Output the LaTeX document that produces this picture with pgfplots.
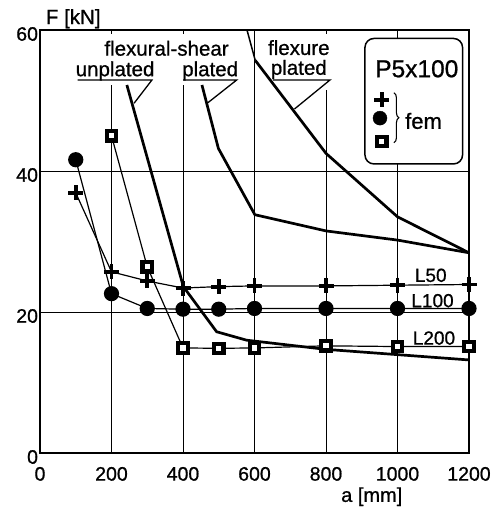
\documentclass[border=0pt]{standalone}
\usepackage{fontspec}
\setmainfont{Liberation Sans}[FakeBold=0.8]
\usepackage{pgfplots}
\pgfplotsset{compat=1.18}
\usetikzlibrary{decorations.pathreplacing}
\begin{document}
\begin{tikzpicture}
\useasboundingbox (-40bp,-63bp) rectangle (451bp,453bp);
\begin{axis}[
  at={(0,0)}, anchor=south west,
  scale only axis, width=429bp, height=423bp,
  xmin=0, xmax=1200, ymin=0, ymax=60,
  xtick={0,200,...,1200}, ytick={0,20,40,60},
  tick align=inside, major tick length=4bp,
  axis line style={line width=2.4bp},
  every tick/.style={black, line width=0.8bp},
  clip=false,
  /pgf/number format/assume math mode=true,
  /pgf/number format/1000 sep={},
  tick label style={font=\fontsize{19.5bp}{22bp}\selectfont},
  xticklabel style={yshift=-10.5bp},
  yticklabel style={xshift=1.5bp, yshift=-4bp},
]
% grid lines
\draw[line width=0.8bp] (axis cs:0,20) -- (axis cs:1200,20);
\draw[line width=0.8bp] (axis cs:0,40) -- (axis cs:1200,40);
\draw[line width=0.8bp] (axis cs:200,0) -- (axis cs:200,52.2);
\draw[line width=0.8bp] (axis cs:400,0) -- (axis cs:400,52.2);
\draw[line width=0.8bp] (axis cs:600,0) -- (axis cs:600,60);
\draw[line width=0.8bp] (axis cs:800,0) -- (axis cs:800,51.5);
\draw[line width=0.8bp] (axis cs:1000,0) -- (axis cs:1000,60);

% thick analytical curves
\addplot[line width=2.7bp, line join=round] coordinates {(243,52.2)(401,23.6)(494,17.2)(578,16.0)(800,14.7)(1200,13.2)};
\addplot[line width=2.7bp, line join=round] coordinates {(453,52.2)(499,43.2)(601,33.8)(800,31.5)(1000,30.2)(1200,28.4)};
\addplot[line width=1.5bp] coordinates {(579,60)(602,55.7)};
\addplot[line width=2.7bp, line join=round] coordinates {(602,55.7)(800,42.5)(1000,33.5)(1200,28.4)};

% fem series
\addplot[line width=1.2bp, mark=+, mark size=7.5bp, mark options={line width=3.8bp}] coordinates {(100,36.9)(200,25.7)(300,24.4)(400,23.4)(500,23.6)(600,23.7)(800,23.7)(1000,23.8)(1200,23.9)};
\addplot[line width=1.2bp, mark=*, mark size=7bp, mark options={fill=black}] coordinates {(100,41.6)(200,22.6)(300,20.5)(400,20.4)(500,20.4)(600,20.5)(800,20.5)(1000,20.5)(1200,20.5)};
\addplot[line width=1.2bp, mark=square*, mark size=4.7bp, mark options={fill=white, line width=4.2bp}] coordinates {(200,45)(300,26.4)(400,14.9)(500,14.85)(600,14.9)(800,15.2)(1000,15.1)(1200,15.1)};

% labels with underline and leaders
\node[font=\fontsize{20.5bp}{22bp}\selectfont] at (axis cs:354,57.4) {flexural-shear};
\node[font=\fontsize{20.5bp}{22bp}\selectfont] at (axis cs:210,54.2) {unplated};
\draw[line width=1.3bp] (axis cs:105,52.9) -- (axis cs:313,52.9) -- (axis cs:263,49.6);
\node[font=\fontsize{20.5bp}{22bp}\selectfont] at (axis cs:476,54.2) {plated};
\draw[line width=1.3bp] (axis cs:400,52.9) -- (axis cs:550,52.9) -- (axis cs:470,49.7);
\node[font=\fontsize{20.5bp}{22bp}\selectfont] at (axis cs:724,57.5) {flexure};
\node[font=\fontsize{20.5bp}{22bp}\selectfont] at (axis cs:724,54.4) {plated};
\draw[line width=1.3bp] (axis cs:652,52.9) -- (axis cs:811,52.9) -- (axis cs:712,48.8);

% legend box
\draw[line width=1.5bp, rounded corners=9bp, fill=white] (axis cs:909,41.0) rectangle (axis cs:1182,58.8);
\node[font=\fontsize{24.5bp}{26bp}\selectfont] at (axis cs:1054,54.5) {P5x100};
\addplot[forget plot, only marks, mark=+, mark size=7.5bp, mark options={line width=3.8bp}] coordinates {(956,50.1)};
\addplot[forget plot, only marks, mark=*, mark size=7bp, mark options={fill=black}] coordinates {(951,47.5)};
\addplot[forget plot, only marks, mark=square*, mark size=4.7bp, mark options={fill=white, line width=4.2bp}] coordinates {(956,44.2)};
\draw[line width=1.1bp, decorate, decoration={brace, amplitude=5bp}] (axis cs:990,51.1) -- (axis cs:990,44.0);
\node[anchor=west, inner sep=0pt, font=\fontsize{22bp}{24bp}\selectfont] at (axis cs:1021,47.1) {fem};

% series labels
\node[font=\fontsize{19bp}{21bp}\selectfont] at (axis cs:1093,25.2) {L50};
\node[font=\fontsize{19bp}{21bp}\selectfont] at (axis cs:1098,21.6) {L100};
\node[font=\fontsize{19bp}{21bp}\selectfont] at (axis cs:1102,16.3) {L200};

% axis titles
\node[font=\fontsize{20.5bp}{22bp}\selectfont] at (axis cs:93,61.6) {F [kN]};
\node[font=\fontsize{20bp}{22bp}\selectfont] at (axis cs:928,-6.2) {a [mm]};
\end{axis}
\end{tikzpicture}
\end{document}
